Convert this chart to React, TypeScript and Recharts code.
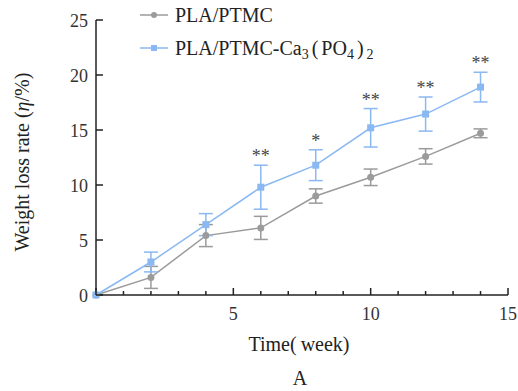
import React from 'react';
import { LineChart, Line, XAxis, YAxis, ErrorBar, LabelList } from 'recharts';

const weeks = [0, 2, 4, 6, 8, 10, 12, 14];
const ptmc = [0, 1.6, 5.4, 6.1, 9.0, 10.7, 12.6, 14.7];
const ptmcErr = [0, 1.0, 1.0, 1.05, 0.65, 0.75, 0.7, 0.4];
const caP = [0, 3.0, 6.4, 9.8, 11.8, 15.2, 16.45, 18.9];
const caPErr = [0, 0.9, 1.0, 2.0, 1.4, 1.75, 1.55, 1.35];
const sig = ['', '', '', '**', '*', '**', '**', '**'];

const xTicks = [0, 1, 2, 3, 4, 5, 6, 7, 8, 9, 10, 11, 12, 13, 14, 15];
const xLabels = [5, 10, 15];
const yTicks = [0, 5, 10, 15, 20, 25];

const GRAY = '#9b9b9b';
const BLUE = '#8ab8f2';
const AXIS = '#222';
const FONT = 'Liberation Serif';
const ts = (size: number): React.CSSProperties => ({ fontFamily: FONT, fontSize: size });

const data = weeks.map((w, i) => ({
  week: w,
  ptmc: ptmc[i],
  ptmcErr: ptmcErr[i],
  ca: caP[i],
  caErr: caPErr[i],
  top: caP[i] + caPErr[i],
  sig: sig[i],
}));

const XTick = (props: any) => {
  const { x, y, payload } = props;
  const v = payload.value;
  const major = v % 5 === 0;
  return (
    <g>
      <line x1={x} y1={y} x2={x} y2={y - (major ? 7 : 4)} stroke={AXIS} strokeWidth={1.5} />
      {xLabels.includes(v) && (
        <text x={x} y={y + 25} textAnchor="middle" style={ts(18)} fill="#333">
          {v}
        </text>
      )}
    </g>
  );
};

const YTick = (props: any) => {
  const { x, y, payload } = props;
  return (
    <g>
      <line x1={x} y1={y} x2={x + 7} y2={y} stroke={AXIS} strokeWidth={1.5} />
      <text x={x - 8} y={y + 6.5} textAnchor="end" style={ts(18)} fill="#333">
        {payload.value}
      </text>
    </g>
  );
};

const CircleDot = (props: any) => {
  const { cx, cy } = props;
  if (cx == null || cy == null) return null;
  return <circle cx={cx} cy={cy} r={3.5} fill={GRAY} stroke="none" />;
};

const SquareDot = (props: any) => {
  const { cx, cy } = props;
  if (cx == null || cy == null) return null;
  return <rect x={cx - 3.5} y={cy - 3.5} width={7} height={7} fill={BLUE} stroke="none" />;
};

const SigLabel = (props: any) => {
  const { x, y, value } = props;
  if (!value) return null;
  return (
    <text x={x} y={y - 3} textAnchor="middle" style={ts(18)} fill="#444">
      {value}
    </text>
  );
};

export default function App() {
  return (
    <div style={{ position: 'absolute', left: 0, top: 0, width: 518, height: 391, background: '#fff', fontFamily: FONT }}>
      <LineChart width={518} height={391} data={data} margin={{ top: 20, right: 10, bottom: 66, left: 0 }}>
        <XAxis
          dataKey="week"
          type="number"
          domain={[0, 15]}
          ticks={xTicks}
          interval={0}
          tickSize={0}
          tickMargin={0}
          tick={<XTick />}
          axisLine={{ stroke: AXIS, strokeWidth: 1.5 }}
          tickLine={false}
          height={30}
        />
        <YAxis
          type="number"
          domain={[0, 25]}
          ticks={yTicks}
          interval={0}
          tickSize={0}
          tickMargin={0}
          tick={<YTick />}
          axisLine={{ stroke: AXIS, strokeWidth: 1.5 }}
          tickLine={false}
          width={96}
        />
        <Line dataKey="ptmc" stroke={GRAY} strokeWidth={1.5} dot={<CircleDot />} isAnimationActive={false}>
          <ErrorBar dataKey="ptmcErr" direction="y" width={7} stroke={GRAY} strokeWidth={1.5} />
        </Line>
        <Line dataKey="ca" stroke={BLUE} strokeWidth={1.5} dot={<SquareDot />} isAnimationActive={false}>
          <ErrorBar dataKey="caErr" direction="y" width={7} stroke={BLUE} strokeWidth={1.5} />
        </Line>
        <Line dataKey="top" stroke="none" dot={false} activeDot={false} isAnimationActive={false}>
          <LabelList dataKey="sig" content={<SigLabel />} />
        </Line>
        <g>
          <line x1={140} y1={15} x2={168} y2={15} stroke={GRAY} strokeWidth={1.5} />
          <circle cx={154} cy={15} r={3} fill={GRAY} />
          <text x={175} y={22} style={ts(20)} fill="#222">PLA/PTMC</text>
          <line x1={140} y1={48} x2={168} y2={48} stroke={BLUE} strokeWidth={1.5} />
          <rect x={151} y={45} width={6} height={6} fill={BLUE} />
          <text x={175} y={55} style={ts(20)} fill="#222">
            PLA/PTMC-Ca
            <tspan style={ts(14)} dy={4}>3</tspan>
            <tspan style={ts(20)} dy={-4} dx={3}>(</tspan>
            <tspan dx={3}>PO</tspan>
            <tspan style={ts(14)} dy={4}>4</tspan>
            <tspan style={ts(20)} dy={-4} dx={3}>)</tspan>
            <tspan style={ts(14)} dy={4} dx={3}>2</tspan>
          </text>
          <text
            x={22}
            y={162}
            transform="rotate(-90 22 162)"
            textAnchor="middle"
            dominantBaseline="central"
            style={ts(20)}
            fill="#222"
          >
            Weight loss rate (<tspan fontStyle="italic">η</tspan>/%)
          </text>
          <text x={299} y={351} textAnchor="middle" style={ts(20)} fill="#222">
            Time(<tspan dx={4}>week</tspan>)
          </text>
          <text x={300} y={385} textAnchor="middle" style={ts(20)} fill="#222">A</text>
        </g>
      </LineChart>
    </div>
  );
}
